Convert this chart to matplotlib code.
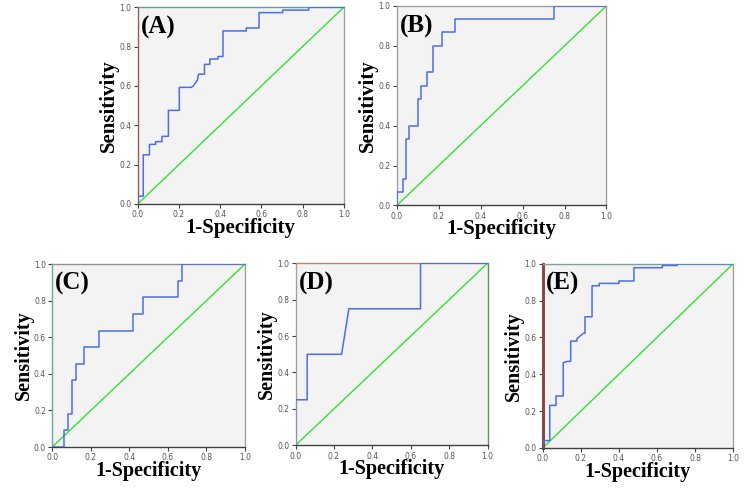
import matplotlib
matplotlib.use("Agg")
import matplotlib.pyplot as plt

# ROC step curves (1-Specificity, Sensitivity)
a_x = [0.0, 0.0, 0.027, 0.027, 0.057, 0.057, 0.087, 0.087, 0.118, 0.118, 0.149, 0.149, 0.202, 0.202, 0.26, 0.27, 0.29, 0.295, 0.324, 0.324, 0.35, 0.35, 0.39, 0.39, 0.414, 0.414, 0.527, 0.527, 0.589, 0.589, 0.704, 0.704, 0.83, 0.83, 1.0]
a_y = [0.0, 0.04, 0.04, 0.25, 0.25, 0.303, 0.303, 0.317, 0.317, 0.344, 0.344, 0.476, 0.476, 0.593, 0.593, 0.60, 0.63, 0.66, 0.66, 0.71, 0.71, 0.737, 0.737, 0.75, 0.75, 0.88, 0.88, 0.895, 0.895, 0.973, 0.973, 0.986, 0.986, 1.0, 1.0]

b_x = [0.0, 0.0, 0.029, 0.029, 0.045, 0.045, 0.059, 0.059, 0.10, 0.10, 0.114, 0.114, 0.146, 0.146, 0.175, 0.175, 0.215, 0.215, 0.28, 0.28, 0.749, 0.749, 1.0]
b_y = [0.0, 0.067, 0.067, 0.133, 0.133, 0.333, 0.333, 0.40, 0.40, 0.533, 0.533, 0.60, 0.60, 0.667, 0.667, 0.80, 0.80, 0.867, 0.867, 0.933, 0.933, 1.0, 1.0]

c_x = [0.0, 0.062, 0.062, 0.08, 0.08, 0.10, 0.10, 0.125, 0.125, 0.164, 0.164, 0.244, 0.244, 0.42, 0.42, 0.469, 0.469, 0.654, 0.654, 0.675, 0.675, 1.0]
c_y = [0.0, 0.0, 0.091, 0.091, 0.182, 0.182, 0.364, 0.364, 0.455, 0.455, 0.545, 0.545, 0.636, 0.636, 0.727, 0.727, 0.818, 0.818, 0.909, 0.909, 1.0, 1.0]

d_x = [0.0, 0.0, 0.061, 0.061, 0.24, 0.278, 0.651, 0.651, 1.0]
d_y = [0.0, 0.25, 0.25, 0.50, 0.50, 0.75, 0.75, 1.0, 1.0]

e_x = [0.0, 0.0, 0.037, 0.037, 0.07, 0.07, 0.108, 0.108, 0.131, 0.147, 0.147, 0.18, 0.18, 0.213, 0.222, 0.222, 0.259, 0.259, 0.297, 0.297, 0.40, 0.40, 0.479, 0.479, 0.628, 0.628, 0.705, 0.705, 1.0]
e_y = [0.0, 0.04, 0.04, 0.231, 0.231, 0.282, 0.282, 0.463, 0.47, 0.47, 0.58, 0.58, 0.593, 0.622, 0.622, 0.712, 0.712, 0.88, 0.88, 0.893, 0.893, 0.906, 0.906, 0.978, 0.978, 0.99, 0.99, 1.0, 1.0]

ref_line = [0.0, 1.0]
ticks = [0.0, 0.2, 0.4, 0.6, 0.8, 1.0]
tick_labels = ["0.0", "0.2", "0.4", "0.6", "0.8", "1.0"]
panel_names = ["(A)", "(B)", "(C)", "(D)", "(E)"]
xlabel_text = "1-Specificity"
ylabel_text = "Sensitivity"

curves = [(a_x, a_y), (b_x, b_y), (c_x, c_y), (d_x, d_y), (e_x, e_y)]

# axes rectangles in figure fractions
rects = [
    [0.1836, 0.582, 0.2747, 0.403],
    [0.529, 0.579, 0.2796, 0.409],
    [0.0697, 0.084, 0.257, 0.375],
    [0.394, 0.0875, 0.256, 0.373],
    [0.7236, 0.082, 0.254, 0.3777],
]
# spine colours (left, top, right, bottom) and left width
spine_styles = [
    ("#9a5a55", "#6a9a98", "#a0a0a0", "#404040", 1.0),
    ("#a0a0a0", "#a0a0a0", "#a0a0a0", "#404040", 1.0),
    ("#6aaaa0", "#909090", "#a0a0a0", "#404040", 1.0),
    ("#a0a0a0", "#c08860", "#5a9a5a", "#404040", 1.0),
    ("#8a4848", "#7aa0a0", "#a0a0a0", "#404040", 2.2),
]

fig = plt.figure(figsize=(7.5, 4.88), dpi=100)
serif = ["Liberation Serif", "DejaVu Serif"]

for i, (rect, (xs, ys)) in enumerate(zip(rects, curves)):
    ax = fig.add_axes(rect)
    ax.set_facecolor("#f3f3f3")
    ax.plot(ref_line, ref_line, color="#33e033", lw=1.0, zorder=2)
    ax.plot(xs, ys, color="#4a6ee8", lw=1.1, zorder=3)
    ax.set_xlim(0, 1)
    ax.set_ylim(0, 1)
    ax.set_xticks(ticks)
    ax.set_yticks(ticks)
    ax.set_xticklabels(tick_labels)
    ax.set_yticklabels(tick_labels)
    ax.tick_params(direction="out", length=3, width=0.8, labelsize=5.5,
                   labelcolor="#555555", color="#404040", pad=1.5)
    l, t, r, b, lw = spine_styles[i]
    ax.spines["left"].set_color(l)
    ax.spines["left"].set_linewidth(lw)
    ax.spines["top"].set_color(t)
    ax.spines["right"].set_color(r)
    ax.spines["bottom"].set_color(b)
    for s in ("top", "right", "bottom"):
        ax.spines[s].set_linewidth(1.0)
    fs = 15 if i < 2 else 14.5
    ax.set_xlabel(xlabel_text, family=serif, fontweight="bold", fontsize=fs, labelpad=-1)
    ax.set_ylabel(ylabel_text, family=serif, fontweight="bold", fontsize=fs, labelpad=0)
    ax.text(0.015, 0.955, panel_names[i], transform=ax.transAxes, family=serif,
            fontweight="bold", fontsize=18, ha="left", va="top", zorder=4)

fig.savefig("out.png", dpi=100)
